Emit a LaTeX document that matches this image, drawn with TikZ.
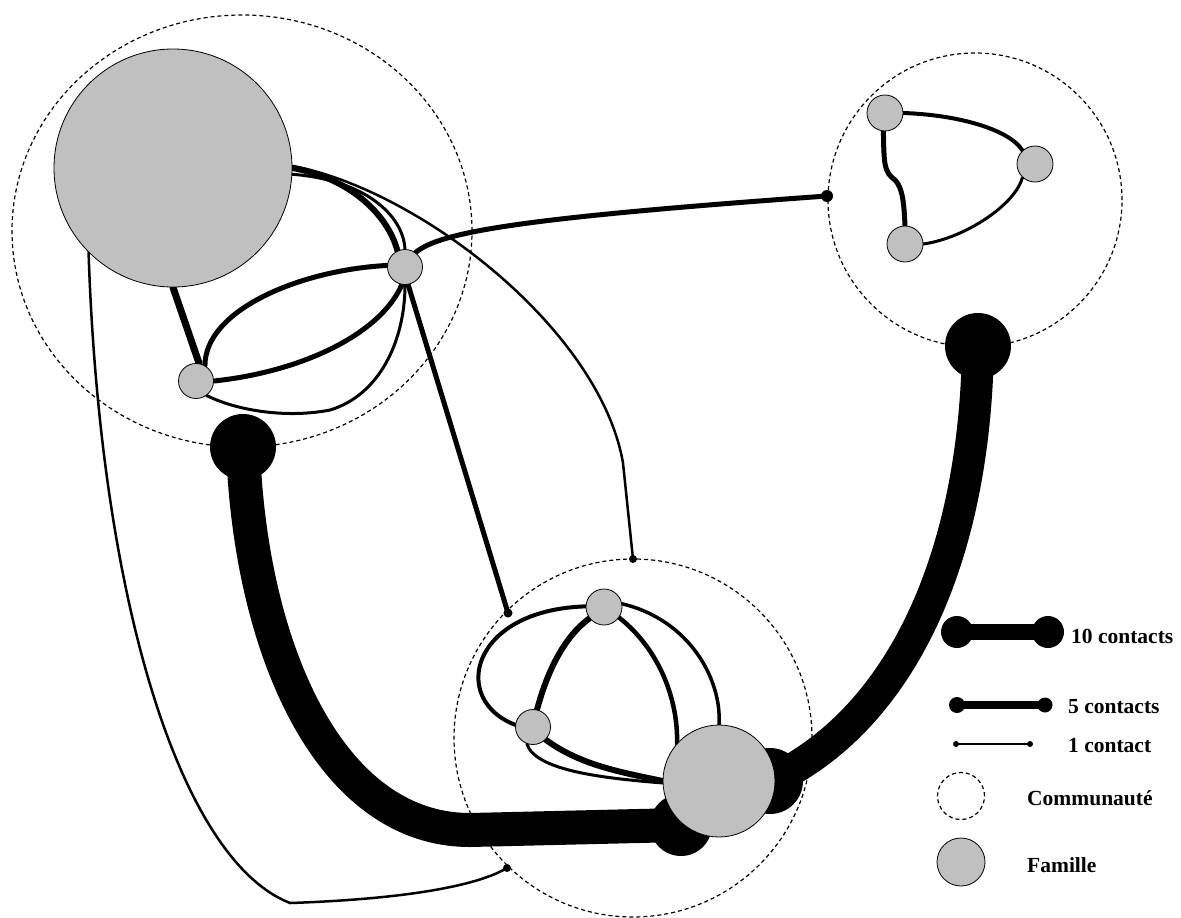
\documentclass[tikz,border=0pt]{standalone}
\usepackage{fontspec}
\setmainfont{Liberation Serif}
\usetikzlibrary{shapes.geometric}
\definecolor{famgray}{RGB}{192,192,192}
\pgfdeclarelayer{bg}
\pgfdeclarelayer{edges}
\pgfsetlayers{bg,edges,main}
\begin{document}
\begin{tikzpicture}[x=1pt,y=-1pt,
  fam/.style={circle, draw=black, line width=0.8pt, fill=famgray, inner sep=0pt, minimum size=#1},
  blob/.style={circle, fill=black, inner sep=0pt, minimum size=#1},
  comm/.style={circle, draw=black, dash pattern=on 4pt off 3pt, line width=1.2pt, inner sep=0pt, minimum size=#1},
  ed/.style={line width=#1, line cap=round, draw=black},
  thick10/.style={line width=#1, draw=black, line join=round},
  lab/.style={anchor=base west, inner sep=0pt, font=\fontsize{21.5}{24}\selectfont\bfseries}]
\useasboundingbox (0,0) rectangle (1181,918);

% communities
\begin{pgfonlayer}{bg}
\node[ellipse, draw=black, dash pattern=on 4pt off 3pt, line width=1.2pt, inner sep=0pt, minimum width=460pt, minimum height=432pt] (C1) at (242,231) {};
\node[comm=294pt] (C2) at (975,200) {};
\node[comm=358pt] (C3) at (633,738) {};
\node[comm=47pt] (lcomm) at (961,796) {};
\end{pgfonlayer}

% blobs (ends of 10-contact links)
\node[blob=66pt] (b1) at (243,447) {};
\node[blob=62pt] (b1g) at (681,825) {};
\node[blob=66pt] (b2) at (978,346) {};
\node[blob=66pt] (b2g) at (770,781) {};

% small dots at community borders
\node[blob=12pt] (dTR) at (827,196) {};
\node[blob=8pt] (dBT) at (633,559) {};
\node[blob=9pt] (dB1) at (508,613) {};
\node[blob=8pt] (dB2) at (507,868) {};

% families
\node[fam=238pt] (big) at (173,168) {};
\node[fam=35pt] (A) at (405,267) {};
\node[fam=35pt] (B) at (196,381) {};
\node[fam=36pt] (N1) at (885,113) {};
\node[fam=36pt] (N2) at (1035,164) {};
\node[fam=36pt] (N3) at (905,244) {};
\node[fam=36pt] (T) at (604,607) {};
\node[fam=35pt] (L) at (533,727) {};
\node[fam=112pt] (G) at (719,781) {};

% legend
\node[blob=32pt] (l10a) at (957,632) {};
\node[blob=32pt] (l10b) at (1048,632) {};
\node[blob=16pt] (l5a) at (957,705) {};
\node[blob=15pt] (l5b) at (1045,705) {};
\node[blob=6pt] (l1a) at (956,744) {};
\node[blob=6pt] (l1b) at (1030,744) {};
\node[fam=48pt] (lfam) at (961,862) {};
\node[lab] (t10) at (1071,643) {10 contacts};
\node[lab] (t5) at (1068,713) {5 contacts};
\node[lab] (t1) at (1068,752) {1 contact};
\node[lab] (tc) at (1027,805) {Communauté};
\node[lab] (tf) at (1027,872) {Famille};

\begin{pgfonlayer}{edges}
% 10-contact links
\draw[thick10=34pt] (b1.center) .. controls (250,650) and (330,830) .. (470,830) -- (b1g.center);
\draw[thick10=32pt] (b2.center) .. controls (975,560) and (900,720) .. (b2g.center);
% top-left community
\draw[ed=6pt] (big.0) .. controls (350,178) and (388,215) .. (A.115);
\draw[ed=3pt] (big.-3) .. controls (365,180) and (403,215) .. (A.90);
\draw[ed=7pt] (big.south) -- (B.80);
\draw[ed=5pt] (A.175) .. controls (300,270) and (205,310) .. (B.60);
\draw[ed=5pt] (B.0) .. controls (300,372) and (380,335) .. (A.260);
\draw[ed=3pt] (B.-54) .. controls (240,412) and (290,418) .. (330,410) .. controls (380,395) and (405,340) .. (A.270);
% links leaving the top-left community
\draw[ed=5pt] (A.54) .. controls (440,232) and (520,218) .. (dTR.center);
\draw[ed=5pt] (A.-80) -- (dB1.center);
\draw[ed=2.5pt] (big.1) .. controls (420,190) and (600,330) .. (623,463) -- (dBT.center);
\draw[ed=2.5pt] (big.225) .. controls (100,600) and (180,860) .. (290,903) .. controls (380,900) and (470,890) .. (dB2.center);
% top-right community
\draw[ed=4pt] (N1.east) .. controls (960,115) and (1010,130) .. (N2.133);
\draw[ed=5pt] (N1.265) .. controls (884,165) and (884,172) .. (895,180) .. controls (903,188) and (904,205) .. (N3.north);
\draw[ed=3pt] (N3.east) .. controls (965,238) and (1015,205) .. (N2.227);
% bottom community
\draw[ed=6pt] (T.218) .. controls (560,640) and (545,680) .. (L.77);
\draw[ed=4pt] (T.178) .. controls (470,610) and (450,700) .. (L.173);
\draw[ed=6pt] (L.-45) .. controls (580,765) and (620,772) .. (G.180);
\draw[ed=3pt] (L.-110) .. controls (535,770) and (600,778) .. (G.182);
\draw[ed=4.5pt] (T.-35) .. controls (660,650) and (678,700) .. (G.138);
\draw[ed=3.5pt] (T.10) .. controls (690,620) and (722,680) .. (G.90);
% legend bars
\draw[line width=16pt] (l10a.center) -- (l10b.center);
\draw[line width=8pt] (l5a.center) -- (l5b.center);
\draw[line width=2pt] (l1a.center) -- (l1b.center);
\end{pgfonlayer}
\end{tikzpicture}
\end{document}
